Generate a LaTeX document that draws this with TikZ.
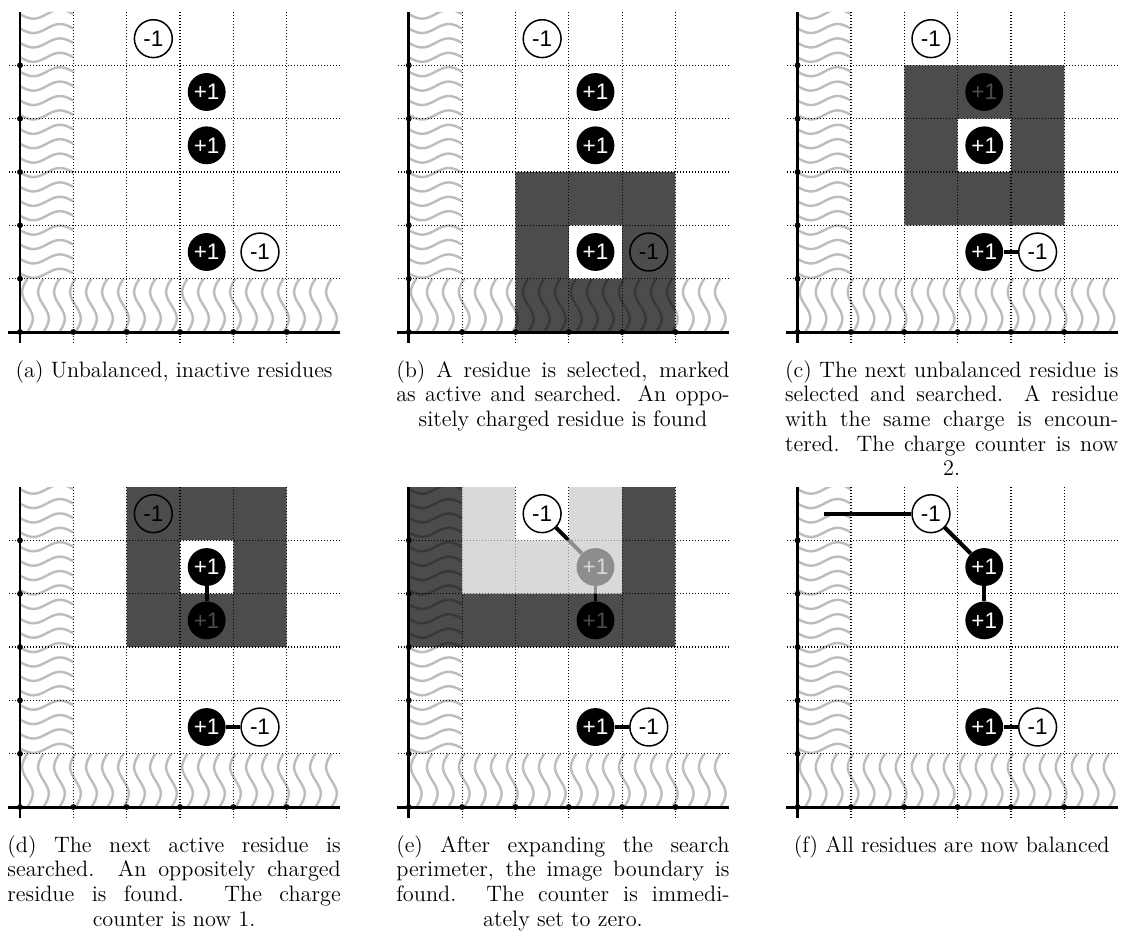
\documentclass[tikz,border=0pt]{standalone}
\usepackage{fontspec}
\newfontfamily\chargefont{Liberation Sans}
\tikzset{
  wave/.style={draw=black!26, line width=1.3pt},
  gridline/.style={densely dotted, line width=0.6pt},
  axisline/.style={line width=1.6pt},
  charge/.style={circle, minimum size=0.71cm, inner sep=0pt, font=\chargefont\fontsize{12}{14}\selectfont},
  poscharge/.style={charge, fill=black, text=white},
  negcharge/.style={charge, draw=black, line width=0.8pt, fill=white, text=black},
  link/.style={line width=2.1pt},
  searched/.style={fill=black, fill opacity=0.7, even odd rule},
  visited/.style={fill=black!21, fill opacity=0.7},
  capt/.style={inner sep=0pt, anchor=north},
}
% justified caption paragraph whose last line is centred
\newcommand\captext[1]{\parbox[t]{6.25cm}{\fontsize{11.9}{13.1}\selectfont
  \leftskip=0pt plus 1fil\rightskip=0pt plus -1fil\parfillskip=0pt plus 2fil\relax
  #1}}
% boundary hatching, dotted grid and axes of one 6x6 panel
\newcommand\panelbase{%
  \begin{scope}
    \clip (0,0) rectangle (6,1) (0,1) rectangle (1,6);
    \foreach \k in {0,...,19}
      \draw[wave] plot[domain=0:1, samples=21, smooth, variable=\t] ({\t},{1.1+0.27*\k-0.085*sin(360*\t)});
    \foreach \k in {0,...,20}
      \draw[wave] plot[domain=0:1, samples=21, smooth, variable=\t] ({0.14+0.3*\k+0.1*sin(360*\t)},{\t});
  \end{scope}
  \foreach \i in {1,...,5} {
    \draw[gridline] (\i,-0.2) -- (\i,6);
    \draw[gridline] (-0.2,\i) -- (6,\i);
  }
  \draw[axisline] (-0.22,0) -- (6,0);
  \draw[axisline] (0,-0.2) -- (0,6);
  \foreach \i in {0,...,5} \fill (\i,0) circle (0.055);
  \foreach \j in {1,...,5} \fill (0,\j) circle (0.055);
}
\begin{document}
\begin{tikzpicture}
\useasboundingbox (0,0) rectangle (21.075,17.438);

% (a)
\begin{scope}[shift={(0.375,11.213)}]
  \panelbase
  \node[negcharge] (a1) at (2.5,5.5) {-1};
  \node[poscharge] (a2) at (3.5,4.5) {+1};
  \node[poscharge] (a3) at (3.5,3.5) {+1};
  \node[poscharge] (a4) at (3.5,1.5) {+1};
  \node[negcharge] (a5) at (4.5,1.5) {-1};
  \node[capt] (acap) at (2.89,-0.53) {\captext{(a) Unbalanced, inactive residues}};
\end{scope}

% (b)
\begin{scope}[shift={(7.665,11.213)}]
  \panelbase
  \node[negcharge] (b1) at (2.5,5.5) {-1};
  \node[poscharge] (b2) at (3.5,4.5) {+1};
  \node[poscharge] (b3) at (3.5,3.5) {+1};
  \node[poscharge] (b4) at (3.5,1.5) {+1};
  \node[negcharge] (b5) at (4.5,1.5) {-1};
  \fill[searched] (2,0) rectangle (5,3) (3,1) rectangle (4,2);
  \node[capt] (bcap) at (2.89,-0.53) {\captext{(b) A residue is selected, marked\linebreak as active and searched. An oppo-\linebreak sitely charged residue is found}};
\end{scope}

% (c)
\begin{scope}[shift={(14.955,11.213)}]
  \panelbase
  \node[negcharge] (c1) at (2.5,5.5) {-1};
  \node[poscharge] (c2) at (3.5,4.5) {+1};
  \node[poscharge] (c3) at (3.5,3.5) {+1};
  \node[poscharge] (c4) at (3.5,1.5) {+1};
  \node[negcharge] (c5) at (4.5,1.5) {-1};
  \draw[link] (c4) -- (c5);
  \fill[searched] (2,2) rectangle (5,5) (3,3) rectangle (4,4);
  \node[capt] (ccap) at (2.89,-0.53) {\captext{(c) The next unbalanced residue is\linebreak selected and searched. A residue\linebreak with the same charge is encoun-\linebreak tered. The charge counter is now\linebreak 2.}};
\end{scope}

% (d)
\begin{scope}[shift={(0.375,2.306)}]
  \panelbase
  \node[negcharge] (d1) at (2.5,5.5) {-1};
  \node[poscharge] (d2) at (3.5,4.5) {+1};
  \node[poscharge] (d3) at (3.5,3.5) {+1};
  \node[poscharge] (d4) at (3.5,1.5) {+1};
  \node[negcharge] (d5) at (4.5,1.5) {-1};
  \draw[link] (d2) -- (d3);
  \draw[link] (d4) -- (d5);
  \fill[searched] (2,3) rectangle (5,6) (3,4) rectangle (4,5);
  \node[capt] (dcap) at (2.89,-0.53) {\captext{(d) The next active residue is\linebreak searched. An oppositely charged\linebreak residue is found. The charge\linebreak counter is now 1.}};
\end{scope}

% (e)
\begin{scope}[shift={(7.665,2.306)}]
  \panelbase
  \node[negcharge] (e1) at (2.5,5.5) {-1};
  \node[poscharge] (e2) at (3.5,4.5) {+1};
  \node[poscharge] (e3) at (3.5,3.5) {+1};
  \node[poscharge] (e4) at (3.5,1.5) {+1};
  \node[negcharge] (e5) at (4.5,1.5) {-1};
  \draw[link] (e1) -- (e2);
  \draw[link] (e2) -- (e3);
  \draw[link] (e4) -- (e5);
  \fill[searched] (0,3) rectangle (1,6) (1,3) rectangle (4,4) (4,3) rectangle (5,6);
  \fill[visited] (1,4) rectangle (2,6) (2,4) rectangle (3,5) (3,4) rectangle (4,6);
  \node[capt] (ecap) at (2.89,-0.53) {\captext{(e) After expanding the search\linebreak perimeter, the image boundary is\linebreak found. The counter is immedi-\linebreak ately set to zero.}};
\end{scope}

% (f)
\begin{scope}[shift={(14.955,2.306)}]
  \panelbase
  \coordinate (f0) at (0.5,5.5);
  \node[negcharge] (f1) at (2.5,5.5) {-1};
  \node[poscharge] (f2) at (3.5,4.5) {+1};
  \node[poscharge] (f3) at (3.5,3.5) {+1};
  \node[poscharge] (f4) at (3.5,1.5) {+1};
  \node[negcharge] (f5) at (4.5,1.5) {-1};
  \draw[link] (f0) -- (f1);
  \draw[link] (f1) -- (f2);
  \draw[link] (f2) -- (f3);
  \draw[link] (f4) -- (f5);
  \node[capt] (fcap) at (2.89,-0.53) {\captext{(f) All residues are now balanced}};
\end{scope}
\end{tikzpicture}
\end{document}
